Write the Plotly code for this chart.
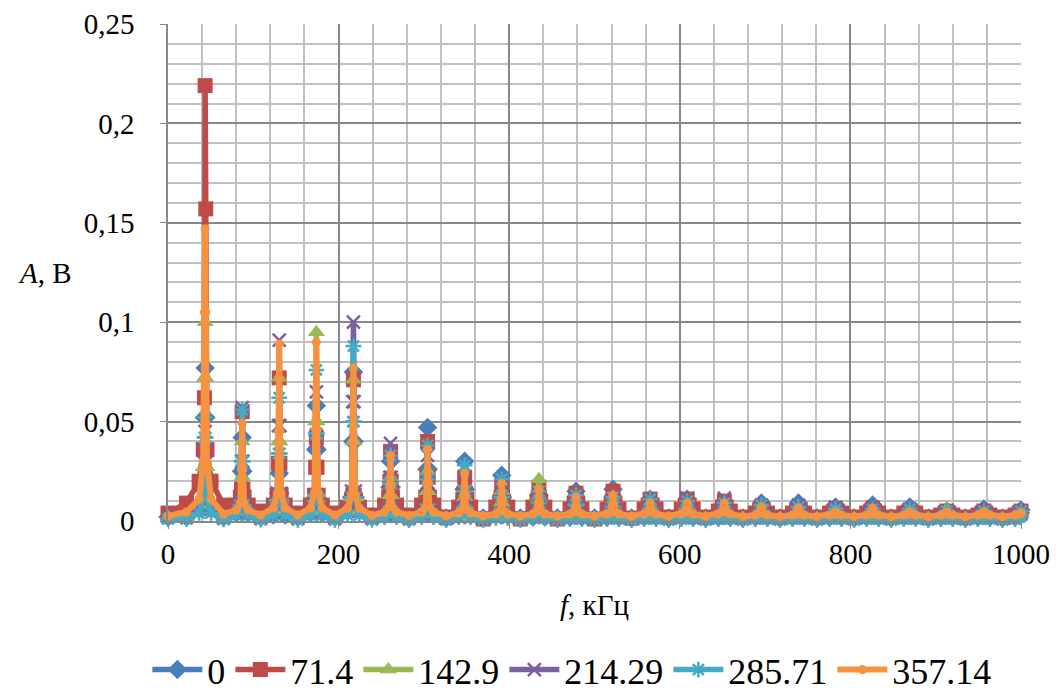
import plotly.graph_objects as go

# ---- data -------------------------------------------------------------
SERIES = ["0", "71.4", "142.9", "214.29", "285.71", "357.14"]
COLORS = ["#4A7EBB", "#BE4B48", "#98B954", "#7D60A0", "#46AAC5", "#F69240"]

# harmonic frequencies (kHz) and midpoints before each harmonic
HARM_F = [43.5, 87.0, 130.4, 173.9, 217.4, 260.9, 304.3, 347.8, 391.3, 434.8, 478.3, 521.7,
          565.2, 608.7, 652.2, 695.7, 739.1, 782.6, 826.1, 869.6, 913.0, 956.5, 1000.0]
MID_F = [21.7, 65.2, 108.7, 152.2, 195.7, 239.1, 282.6, 326.1, 369.6, 413.0, 456.5, 500.0,
         543.5, 587.0, 630.4, 673.9, 717.4, 760.9, 804.3, 847.8, 891.3, 934.8, 978.3]
OFFSETS = [-7.0, -2.2, -0.8, 0.0, 0.8, 2.2, 7.0]

# series "0"
START_B = 0.002
TR_B = [0.002, 0.002, 0.002, 0.002, 0.002, 0.002, 0.0015, 0.0015, 0.0015, 0.0015, 0.0015, 0.0015,
        0.0015, 0.0015, 0.0015, 0.0015, 0.0015, 0.0015, 0.0015, 0.0015, 0.0015, 0.0015, 0.0015]
S3_B = [0.006, 0.004, 0.003, 0.004, 0.005, 0.003, 0.003, 0.003, 0.003, 0.002, 0.002, 0.002,
        0.002, 0.002, 0.002, 0.002, 0.002, 0.002, 0.002, 0.002, 0.002, 0.002, 0.002]
S2_B = [0.016, 0.008, 0.006, 0.011, 0.012, 0.006, 0.008, 0.006, 0.005, 0.004, 0.004, 0.004,
        0.004, 0.004, 0.003, 0.003, 0.003, 0.003, 0.003, 0.003, 0.003, 0.003, 0.003]
S1_B = [0.052, 0.025, 0.014, 0.036, 0.040, 0.017, 0.026, 0.016, 0.012, 0.008, 0.009, 0.009,
        0.007, 0.007, 0.005, 0.006, 0.006, 0.005, 0.005, 0.005, 0.004, 0.004, 0.004]
PK_B = [0.077, 0.042, 0.024, 0.058, 0.075, 0.030, 0.047, 0.030, 0.023, 0.013, 0.015, 0.016,
        0.011, 0.011, 0.008, 0.009, 0.009, 0.007, 0.008, 0.007, 0.005, 0.006, 0.0055]

# series "71.4"
START_R = 0.004
TR_R = [0.009, 0.008, 0.005, 0.004, 0.004, 0.003, 0.003, 0.002, 0.001, 0.001, 0.001, 0.001,
        0.0015, 0.002, 0.002, 0.002, 0.002, 0.002, 0.002, 0.002, 0.002, 0.002, 0.002]
S3_R = [0.020, 0.008, 0.008, 0.008, 0.007, 0.008, 0.008, 0.007, 0.007, 0.007, 0.006, 0.006,
        0.006, 0.006, 0.005, 0.004, 0.004, 0.004, 0.004, 0.004, 0.003, 0.003, 0.003]
S2_R = [0.036, 0.012, 0.013, 0.013, 0.011, 0.012, 0.012, 0.011, 0.010, 0.010, 0.009, 0.009,
        0.008, 0.008, 0.007, 0.005, 0.005, 0.005, 0.005, 0.004, 0.004, 0.004, 0.004]
S1_R = [0.062, 0.016, 0.029, 0.027, 0.013, 0.020, 0.022, 0.014, 0.012, 0.012, 0.010, 0.010,
        0.008, 0.008, 0.007, 0.006, 0.005, 0.005, 0.005, 0.005, 0.004, 0.004, 0.004]
PK_R = [0.219, 0.055, 0.072, 0.042, 0.071, 0.035, 0.040, 0.022, 0.017, 0.017, 0.014, 0.015,
        0.011, 0.011, 0.010, 0.007, 0.006, 0.006, 0.006, 0.005, 0.005, 0.005, 0.005]
# second-highest point of the main red peak (one sample off the maximum)
PK2_R = 0.157

# series "142.9"
START_G = 0.002
TR_G = [0.002, 0.0015, 0.0015, 0.0015, 0.0015, 0.0015, 0.0015, 0.0015, 0.0015, 0.0015, 0.0015, 0.0015,
        0.0015, 0.0015, 0.0015, 0.0015, 0.0015, 0.0015, 0.0015, 0.0015, 0.0015, 0.0015, 0.0015]
S3_G = [0.008, 0.004, 0.005, 0.005, 0.005, 0.003, 0.003, 0.002, 0.002, 0.003, 0.002, 0.002,
        0.002, 0.002, 0.002, 0.002, 0.002, 0.002, 0.002, 0.002, 0.002, 0.002, 0.002]
S2_G = [0.027, 0.008, 0.012, 0.014, 0.012, 0.006, 0.006, 0.004, 0.004, 0.006, 0.003, 0.003,
        0.003, 0.003, 0.003, 0.003, 0.003, 0.003, 0.003, 0.003, 0.003, 0.002, 0.002]
S1_G = [0.072, 0.022, 0.040, 0.050, 0.040, 0.013, 0.015, 0.008, 0.009, 0.012, 0.006, 0.007,
        0.005, 0.005, 0.005, 0.004, 0.004, 0.004, 0.004, 0.004, 0.004, 0.003, 0.003]
PK_G = [0.100, 0.040, 0.072, 0.095, 0.071, 0.022, 0.025, 0.012, 0.015, 0.021, 0.010, 0.011,
        0.008, 0.008, 0.007, 0.006, 0.006, 0.005, 0.005, 0.005, 0.006, 0.004, 0.004]

# series "214.29"
START_P = 0.002
TR_P = [0.002, 0.0015, 0.0015, 0.0015, 0.0015, 0.0015, 0.0015, 0.0015, 0.0015, 0.0015, 0.0015, 0.0015,
        0.0015, 0.0015, 0.0015, 0.0015, 0.0015, 0.0015, 0.0015, 0.0015, 0.0015, 0.0015, 0.0015]
S3_P = [0.006, 0.004, 0.005, 0.004, 0.005, 0.003, 0.003, 0.002, 0.002, 0.002, 0.002, 0.002,
        0.002, 0.002, 0.002, 0.002, 0.002, 0.002, 0.002, 0.002, 0.002, 0.002, 0.002]
S2_P = [0.014, 0.010, 0.014, 0.012, 0.015, 0.007, 0.006, 0.005, 0.004, 0.004, 0.004, 0.004,
        0.004, 0.004, 0.004, 0.003, 0.003, 0.003, 0.003, 0.003, 0.003, 0.003, 0.003]
S1_P = [0.035, 0.030, 0.048, 0.040, 0.060, 0.022, 0.019, 0.012, 0.009, 0.008, 0.007, 0.007,
        0.007, 0.007, 0.007, 0.005, 0.005, 0.005, 0.005, 0.004, 0.004, 0.004, 0.004]
PK_P = [0.045, 0.057, 0.091, 0.065, 0.100, 0.039, 0.033, 0.020, 0.015, 0.012, 0.012, 0.011,
        0.011, 0.0115, 0.0115, 0.008, 0.008, 0.007, 0.007, 0.006, 0.005, 0.005, 0.005]

# series "285.71"
START_T = 0.001
TR_T = [0.001, 0.0008, 0.0006, 0.0005, 0.0005, 0.0005, 0.0005, 0.0005, 0.0005, 0.0005, 0.0005, 0.0005,
        0.0005, 0.0005, 0.0005, 0.0005, 0.0005, 0.0005, 0.0005, 0.0005, 0.0005, 0.0005, 0.0005]
S3_T = [0.004, 0.003, 0.003, 0.003, 0.003, 0.002, 0.002, 0.002, 0.0015, 0.0015, 0.001, 0.001,
        0.001, 0.001, 0.001, 0.001, 0.001, 0.001, 0.001, 0.001, 0.001, 0.001, 0.001]
S2_T = [0.012, 0.008, 0.009, 0.010, 0.012, 0.005, 0.006, 0.005, 0.004, 0.003, 0.003, 0.003,
        0.003, 0.003, 0.002, 0.002, 0.002, 0.002, 0.002, 0.002, 0.002, 0.002, 0.002]
S1_T = [0.042, 0.030, 0.034, 0.044, 0.050, 0.019, 0.021, 0.015, 0.012, 0.009, 0.008, 0.007,
        0.006, 0.006, 0.005, 0.005, 0.004, 0.004, 0.004, 0.004, 0.003, 0.003, 0.003]
PK_T = [0.052, 0.056, 0.062, 0.076, 0.088, 0.033, 0.038, 0.028, 0.021, 0.015, 0.013, 0.012,
        0.011, 0.010, 0.009, 0.008, 0.007, 0.006, 0.006, 0.006, 0.005, 0.005, 0.005]

# series "357.14"
START_O = 0.0025
TR_O = [0.0045, 0.0035, 0.003, 0.003, 0.003, 0.0028, 0.0028, 0.0026, 0.0026, 0.0025, 0.0025, 0.0025,
        0.0024, 0.0024, 0.0024, 0.0023, 0.0023, 0.0023, 0.0023, 0.0022, 0.0022, 0.0022, 0.0022]
S3_O = [0.011, 0.0055, 0.0065, 0.0065, 0.0065, 0.0045, 0.0045, 0.004, 0.0035, 0.0035, 0.0035, 0.0035,
        0.0035, 0.0035, 0.0035, 0.003, 0.003, 0.003, 0.003, 0.003, 0.003, 0.003, 0.003]
S2_O = [0.030, 0.009, 0.014, 0.014, 0.013, 0.007, 0.007, 0.006, 0.005, 0.005, 0.0045, 0.0045,
        0.0045, 0.0045, 0.0045, 0.004, 0.0035, 0.0035, 0.0035, 0.0035, 0.0035, 0.0035, 0.0035]
S1_O = [0.105, 0.026, 0.045, 0.046, 0.040, 0.018, 0.019, 0.013, 0.011, 0.009, 0.007, 0.008,
        0.006, 0.006, 0.006, 0.005, 0.005, 0.004, 0.005, 0.004, 0.004, 0.004, 0.0037]
PK_O = [0.147, 0.049, 0.089, 0.090, 0.077, 0.033, 0.036, 0.024, 0.019, 0.016, 0.012, 0.013,
        0.009, 0.009, 0.009, 0.007, 0.0065, 0.0045, 0.0065, 0.0045, 0.0045, 0.0045, 0.004]

X_TICKS = [0, 200, 400, 600, 800, 1000]
Y_TICKS = [0, 0.05, 0.1, 0.15, 0.2, 0.25]
Y_TICK_TEXT = ["0", "0,05", "0,1", "0,15", "0,2", "0,25"]

DATA = [
    (START_B, TR_B, S3_B, S2_B, S1_B, PK_B),
    (START_R, TR_R, S3_R, S2_R, S1_R, PK_R),
    (START_G, TR_G, S3_G, S2_G, S1_G, PK_G),
    (START_P, TR_P, S3_P, S2_P, S1_P, PK_P),
    (START_T, TR_T, S3_T, S2_T, S1_T, PK_T),
    (START_O, TR_O, S3_O, S2_O, S1_O, PK_O),
]


def build(start, tr, s3, s2, s1, pk, second=None):
    xs, ys = [0.0], [start]
    for i, f in enumerate(HARM_F):
        xs.append(MID_F[i]); ys.append(tr[i])
        vals = [s3[i], s2[i], s1[i], pk[i], s1[i], s2[i], s3[i]]
        if i == 0 and second is not None:
            vals[4] = second
        for off, v in zip(OFFSETS, vals):
            x = f + off
            if x <= 1000.0 + 1e-9:
                xs.append(x); ys.append(v)
    return xs, ys


MARKERS = [
    dict(symbol="diamond", size=15),
    dict(symbol="square", size=15),
    dict(symbol="triangle-up", size=15),
    dict(symbol="x-thin", size=13),
    dict(symbol="asterisk", size=13),
    dict(symbol="circle", size=9),
]

fig = go.Figure()
for k, (name, color, mk, d) in enumerate(zip(SERIES, COLORS, MARKERS, DATA)):
    xs, ys = build(*d, second=PK2_R if k == 1 else None)
    marker = dict(symbol=mk["symbol"], size=mk["size"], color=color,
                  line=dict(color=color, width=2.5 if mk["symbol"] in ("x-thin", "asterisk") else 0))
    fig.add_trace(go.Scatter(x=xs, y=ys, name=name, mode="lines+markers",
                             line=dict(color=color, width=6 if k == 5 else 5.5), marker=marker,
                             cliponaxis=False))

FONT = "Liberation Serif, Times New Roman, serif"
fig.update_layout(
    width=1059, height=694,
    margin=dict(l=168, r=38, t=24, b=173, autoexpand=False),
    paper_bgcolor="white", plot_bgcolor="white",
    font=dict(family=FONT, size=29, color="black"),
    showlegend=True,
    legend=dict(orientation="h", x=0.54, xanchor="center", xref="container",
                y=0.035, yanchor="middle", yref="container",
                font=dict(family=FONT, size=36), itemwidth=50, tracegroupgap=0),
    xaxis=dict(range=[0, 1000], tickvals=X_TICKS, showgrid=True, gridcolor="#888888", gridwidth=1.5,
               minor=dict(dtick=40, showgrid=True, gridcolor="#C0C0C0", gridwidth=1.5),
               showline=True, linecolor="#888888", linewidth=1.5, ticks="outside", ticklen=6,
               tickcolor="#888888", zeroline=False, ticklabelstandoff=0),
    yaxis=dict(range=[0, 0.25], tickvals=Y_TICKS, ticktext=Y_TICK_TEXT, showgrid=True,
               gridcolor="#888888", gridwidth=1.5,
               minor=dict(dtick=0.01, showgrid=True, gridcolor="#C0C0C0", gridwidth=1.5),
               showline=True, linecolor="#888888", linewidth=1.5, ticks="outside", ticklen=6,
               tickcolor="#888888", zeroline=False, ticklabelstandoff=20),
    annotations=[
        dict(text="<i>f</i>, кГц", xref="paper", yref="paper", x=0.5, y=-0.17,
             xanchor="center", yanchor="middle", showarrow=False, font=dict(family=FONT, size=29)),
        dict(text="<i>A</i>, В", xref="paper", yref="paper", x=-0.144, y=0.5,
             xanchor="center", yanchor="middle", showarrow=False, font=dict(family=FONT, size=29)),
    ],
)

fig.write_html("out.html", config={"displayModeBar": False},
               post_script="document.body.style.margin='0';")
